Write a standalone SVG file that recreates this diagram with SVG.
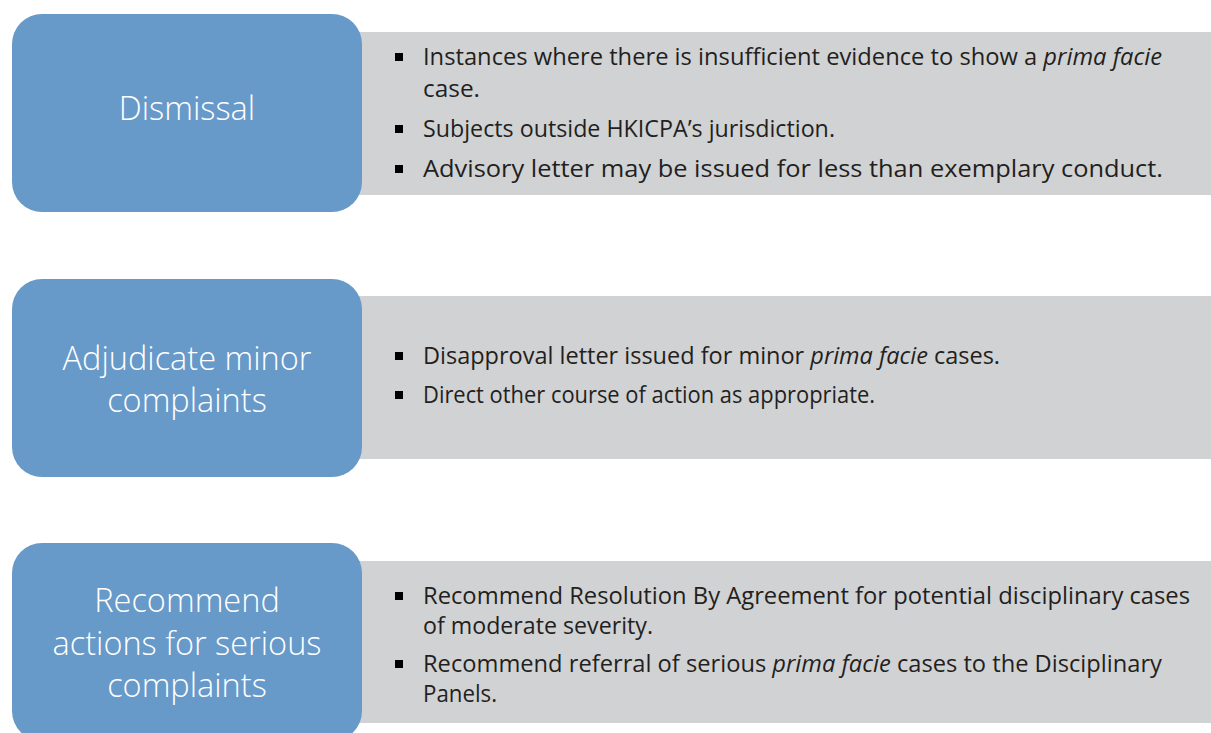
<svg xmlns="http://www.w3.org/2000/svg" width="1211" height="733" viewBox="0 0 1211 733">
<defs>
<style>
.gray{fill:#D1D2D4;}
.blue{fill:#6799C9;}
.title{font-family:"Open Sans","Liberation Sans",sans-serif;font-weight:300;font-size:32.5px;fill:#FFFFFF;text-anchor:middle;}
.item{font-family:"Open Sans","Liberation Sans",sans-serif;font-size:23.5px;fill:#231F20;}
.it{font-style:italic;}
.bul{fill:#000000;}
</style>
</defs>
<rect width="1211" height="733" fill="#FFFFFF"/>
<g id="node-dismissal">
<rect class="gray" x="355" y="32" width="856" height="163"/>
<rect class="blue" x="12" y="14" width="350" height="198" rx="30" ry="30"/>
<text class="title" x="187" y="120">Dismissal</text>
<rect class="bul" x="395" y="53" width="8" height="8"/>
<text class="item" x="423" y="65" textLength="739" lengthAdjust="spacingAndGlyphs">Instances where there is insufficient evidence to show a <tspan class="it">prima facie</tspan></text>
<text class="item" x="423" y="97" textLength="57" lengthAdjust="spacingAndGlyphs">case.</text>
<rect class="bul" x="395" y="125" width="8" height="8"/>
<text class="item" x="423" y="137" textLength="412" lengthAdjust="spacingAndGlyphs">Subjects outside HKICPA’s jurisdiction.</text>
<rect class="bul" x="395" y="165" width="8" height="8"/>
<text class="item" x="423" y="177" textLength="740" lengthAdjust="spacingAndGlyphs">Advisory letter may be issued for less than exemplary conduct.</text>
</g>
<g id="node-minor">
<rect class="gray" x="355" y="296" width="856" height="163"/>
<rect class="blue" x="12" y="279" width="350" height="198" rx="30" ry="30"/>
<text class="title" x="187" y="370">Adjudicate minor</text>
<text class="title" x="187" y="412">complaints</text>
<rect class="bul" x="395" y="352" width="8" height="8"/>
<text class="item" x="423" y="364" textLength="577" lengthAdjust="spacingAndGlyphs">Disapproval letter issued for minor <tspan class="it">prima facie</tspan> cases.</text>
<rect class="bul" x="395" y="391" width="8" height="8"/>
<text class="item" x="423" y="403" textLength="452" lengthAdjust="spacingAndGlyphs">Direct other course of action as appropriate.</text>
</g>
<g id="node-serious">
<rect class="gray" x="355" y="561" width="856" height="162"/>
<rect class="blue" x="12" y="543" width="350" height="198" rx="30" ry="30"/>
<text class="title" x="187" y="612">Recommend</text>
<text class="title" x="187" y="655">actions for serious</text>
<text class="title" x="187" y="697">complaints</text>
<rect class="bul" x="395" y="592" width="8" height="8"/>
<text class="item" x="423" y="604" textLength="767" lengthAdjust="spacingAndGlyphs">Recommend Resolution By Agreement for potential disciplinary cases</text>
<text class="item" x="423" y="634" textLength="230" lengthAdjust="spacingAndGlyphs">of moderate severity.</text>
<rect class="bul" x="395" y="660" width="8" height="8"/>
<text class="item" x="423" y="672" textLength="739" lengthAdjust="spacingAndGlyphs">Recommend referral of serious <tspan class="it">prima facie</tspan> cases to the Disciplinary</text>
<text class="item" x="423" y="702" textLength="74" lengthAdjust="spacingAndGlyphs">Panels.</text>
</g>
<g id="connectors"></g>
</svg>
